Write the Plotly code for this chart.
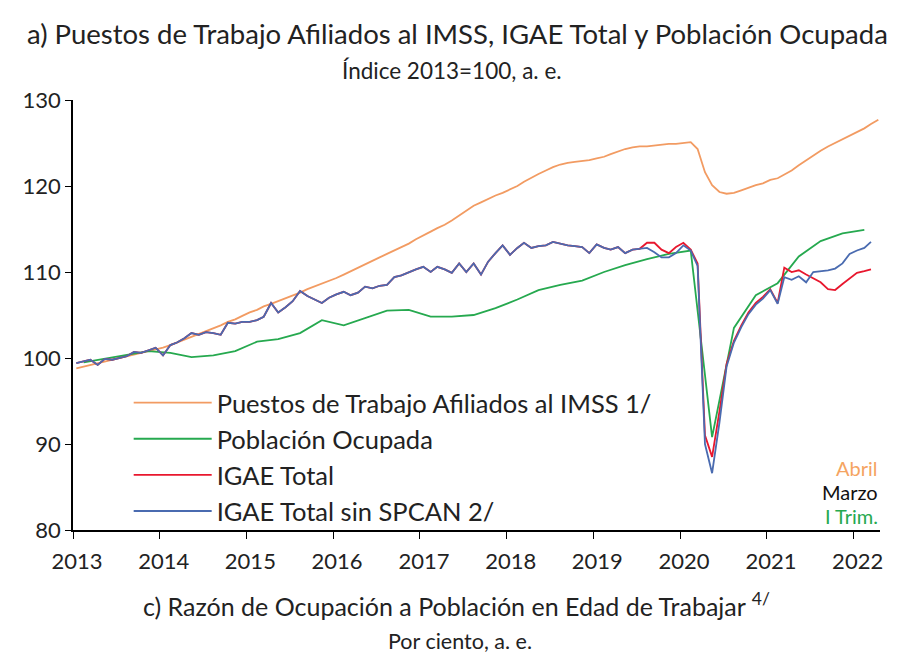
import pandas as pd
import plotly.graph_objects as go

# ---------------- data ----------------
imss = [
    98.8, 99.0, 99.2, 99.4, 99.6, 99.8, 100.0, 100.2, 100.4, 100.6, 100.8, 101.0,
    101.2, 101.5, 101.8, 102.1, 102.5, 102.8, 103.1, 103.5, 103.8, 104.2, 104.5, 104.9,
    105.3, 105.6, 106.0, 106.3, 106.6, 107.0, 107.3, 107.6, 108.0, 108.3, 108.6, 108.9,
    109.3, 109.7, 110.1, 110.5, 110.9, 111.3, 111.7, 112.1, 112.5, 112.9, 113.3, 113.8,
    114.3, 114.7, 115.1, 115.5, 116.0, 116.6, 117.2, 117.7, 118.1, 118.5, 118.9, 119.2,
    119.6, 120.0, 120.5, 121.0, 121.4, 121.8, 122.2, 122.5, 122.7, 122.8, 122.9, 123.0,
    123.2, 123.4, 123.7, 124.0, 124.3, 124.5, 124.6, 124.6, 124.7, 124.8, 124.9, 124.9,
    125.0, 125.1, 124.3, 121.6, 120.1, 119.3, 119.1, 119.2, 119.5, 119.8, 120.1, 120.3,
    120.7, 120.9, 121.3, 121.8, 122.4, 123.0, 123.6, 124.1, 124.6, 125.0, 125.4, 125.8,
    126.2, 126.7, 127.2, 127.7,
]

pob_ocupada = [
    99.5, 99.9, 100.3, 100.8,
    100.6, 100.1, 100.3, 100.8,
    101.9, 102.2, 102.9, 104.4,
    103.8, 104.6, 105.5, 105.6,
    104.8, 104.8, 105.0, 105.8,
    106.8, 107.9, 108.5, 109.0,
    110.0, 110.8, 111.5, 112.1,
    112.5, 90.8, 103.5, 107.3,
    108.7, 111.8, 113.6, 114.5,
    114.9,
]

igae_total = [
    99.4, 99.6, 99.8, 99.2, 99.9, 99.8, 100.0, 100.2, 100.7, 100.6, 100.9, 101.2,
    100.3, 101.5, 101.8, 102.3, 102.9, 102.7, 103.0, 102.9, 102.7, 104.1, 104.0, 104.2,
    104.2, 104.4, 104.8, 106.4, 105.3, 105.9, 106.6, 107.8, 107.2, 106.8, 106.4, 107.0,
    107.4, 107.7, 107.3, 107.6, 108.3, 108.1, 108.4, 108.5, 109.4, 109.6, 110.0, 110.3,
    110.6, 110.0, 110.6, 110.3, 109.9, 111.0, 110.0, 111.0, 109.7, 111.2, 112.2, 113.1,
    112.0, 112.8, 113.4, 112.8, 113.0, 113.1, 113.5, 113.3, 113.1, 113.0, 112.9, 112.2,
    113.2, 112.8, 112.6, 112.9, 112.2, 112.6, 112.7, 113.4, 113.4, 112.6, 112.2, 112.9,
    113.4, 112.6, 111.0, 91.0, 88.5, 93.8, 99.3, 102.0, 103.8, 105.3, 106.4, 107.1,
    108.0, 106.4, 110.5, 110.0, 110.2, 109.7, 109.3, 108.8, 108.0, 107.9, 108.6, 109.2,
    109.9, 110.1, 110.3,
]

igae_sin_spcan = [
    99.4, 99.6, 99.8, 99.2, 99.9, 99.8, 100.0, 100.2, 100.7, 100.6, 100.9, 101.2,
    100.3, 101.5, 101.8, 102.3, 102.9, 102.7, 103.0, 102.9, 102.7, 104.1, 104.0, 104.2,
    104.2, 104.4, 104.8, 106.4, 105.3, 105.9, 106.6, 107.8, 107.2, 106.8, 106.4, 107.0,
    107.4, 107.7, 107.3, 107.6, 108.3, 108.1, 108.4, 108.5, 109.4, 109.6, 110.0, 110.3,
    110.6, 110.0, 110.6, 110.3, 109.9, 111.0, 110.0, 111.0, 109.7, 111.2, 112.2, 113.1,
    112.0, 112.8, 113.4, 112.8, 113.0, 113.1, 113.5, 113.3, 113.1, 113.0, 112.9, 112.2,
    113.2, 112.8, 112.6, 112.9, 112.2, 112.6, 112.7, 112.8, 112.3, 111.7, 111.7, 112.2,
    113.1, 112.5, 110.7, 90.0, 86.6, 92.5, 99.0, 101.8, 103.6, 105.1, 106.2, 106.9,
    107.9, 106.3, 109.4, 109.1, 109.5, 108.8, 110.0, 110.1, 110.2, 110.4, 111.0, 112.1,
    112.5, 112.8, 113.5,
]

year_labels = ["2013", "2014", "2015", "2016", "2017", "2018", "2019", "2020", "2021", "2022"]
y_ticks = [80, 90, 100, 110, 120, 130]

series_names = [
    "Puestos de Trabajo Afiliados al IMSS 1/",
    "Población Ocupada",
    "IGAE Total",
    "IGAE Total sin SPCAN 2/",
]
series_colors = ["#F29B62", "#26A94F", "#E8172E", "#4A6BB0"]

# ---------------- x positions (mid-month / mid-quarter) ----------------
def monthly_dates(n):
    return pd.date_range("2013-01-01", periods=n, freq="MS") + pd.Timedelta(days=14)

def quarterly_dates(n):
    return pd.date_range("2013-02-01", periods=n, freq="3MS") + pd.Timedelta(days=14)

FONT = "Lato"
TXT = "#222222"

fig = go.Figure()
xs = [monthly_dates(len(imss)), quarterly_dates(len(pob_ocupada)),
      monthly_dates(len(igae_total)), monthly_dates(len(igae_sin_spcan))]
ys = [imss, pob_ocupada, igae_total, igae_sin_spcan]
for i in range(4):
    fig.add_trace(go.Scatter(x=xs[i], y=ys[i], mode="lines", name=series_names[i],
                             legendgroup=f"g{i}",
                             line=dict(color=series_colors[i], width=1.8)))

tick_dates = [pd.Timestamp(f"{y}-01-01") for y in year_labels]

PLOT_L, PLOT_R, PLOT_T, PLOT_B = 73, 880, 100, 530
W, H = 912, 656
plot_w = PLOT_R - PLOT_L
plot_h = PLOT_B - PLOT_T

def px_x(x):
    return (x - PLOT_L) / plot_w

def px_y(y):
    return (PLOT_B - y) / plot_h

fig.update_layout(
    width=W, height=H,
    margin=dict(l=PLOT_L, r=W - PLOT_R, t=PLOT_T, b=H - PLOT_B),
    paper_bgcolor="white", plot_bgcolor="white",
    font=dict(family=FONT, color=TXT, size=22),
    showlegend=True,
    legend=dict(
        x=0.069, y=0.35, xanchor="left", yanchor="top",
        bgcolor="rgba(0,0,0,0)", font=dict(size=25.5, color=TXT, family=FONT),
        itemwidth=78, tracegroupgap=0,
    ),
    xaxis=dict(
        type="date",
        range=[pd.Timestamp("2013-01-01"), pd.Timestamp("2022-04-22")],
        tickvals=tick_dates, ticktext=year_labels,
        showline=True, linecolor="black", linewidth=1.6,
        ticks="outside", ticklen=7, tickcolor="black", tickwidth=1.3,
        showgrid=False, zeroline=False,
        ticklabelshift=4, ticklabelstandoff=4,
        tickfont=dict(size=22, family=FONT, color=TXT),
    ),
    yaxis=dict(
        range=[80, 130], tickvals=y_ticks,
        showline=True, linecolor="black", linewidth=1.6,
        ticks="outside", ticklen=6, tickcolor="black", tickwidth=1.3,
        showgrid=False, zeroline=False,
        tickfont=dict(size=22, family=FONT, color=TXT),
    ),
)

texts = [
    ("a) Puestos de Trabajo Afiliados al IMSS, IGAE Total y Población Ocupada", 457, 34, 27.5),
    ("Índice 2013=100, a. e.", 452, 71, 22.5),
    ("c) Razón de Ocupación a Población en Edad de Trabajar <sup>4/</sup>", 456, 604, 25),
    ("Por ciento, a. e.", 460, 641, 21.5),
]
for txt, xc, ypx, sz in texts:
    fig.add_annotation(text=txt, xref="paper", yref="paper", x=px_x(xc), xanchor="center",
                       y=px_y(ypx), yanchor="middle", showarrow=False,
                       font=dict(size=sz, color=TXT, family=FONT))

right_notes = [("Abril", "#F5A462", 468), ("Marzo", "#111111", 492), ("I Trim.", "#26A94F", 516)]
for txt, col, ypx in right_notes:
    fig.add_annotation(text=txt, xref="paper", yref="paper", x=1.0, xanchor="right",
                       y=px_y(ypx), yanchor="middle",
                       showarrow=False, font=dict(size=20, color=col, family=FONT))

fig.write_html("out.html", config={"displayModeBar": False},
               post_script="document.body.style.margin='0px';")
